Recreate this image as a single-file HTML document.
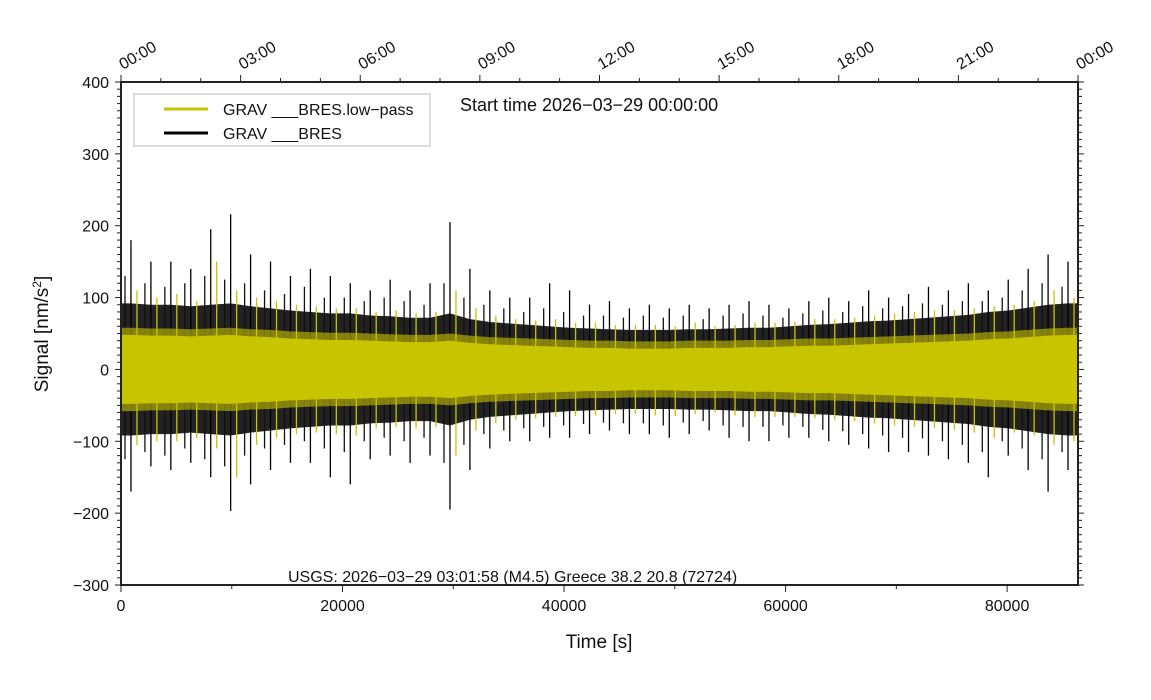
<!DOCTYPE html>
<html><head><meta charset="utf-8"><style>
html,body{margin:0;padding:0;background:#fff;}
svg{display:block;font-family:"Liberation Sans",Arial,sans-serif;}
</style></head><body>
<svg id="chart" width="1151" height="700" viewBox="0 0 1151 700">
<defs><clipPath id="plotclip"><rect x="121" y="82" width="957" height="503"/></clipPath></defs>
<g id="series" clip-path="url(#plotclip)"></g>
<rect x="121" y="82" width="957" height="503" fill="none" stroke="#222" stroke-width="2"/>
<g id="axes"></g>
<g>
<rect x="134" y="94" width="296" height="52" fill="#fff" stroke="#bbb" stroke-width="1"/>
<line x1="164" y1="109" x2="208" y2="109" stroke="#c8c400" stroke-width="3"/>
<text x="223" y="115" font-size="16" fill="#111">GRAV ___BRES.low−pass</text>
<line x1="164" y1="133" x2="208" y2="133" stroke="#000" stroke-width="3"/>
<text x="223" y="139" font-size="16" fill="#111">GRAV ___BRES</text>
</g>
<text x="460" y="111" font-size="18" fill="#111">Start time 2026−03−29 00:00:00</text>
<text x="288" y="582" font-size="16" fill="#111">USGS: 2026−03−29 03:01:58 (M4.5) Greece 38.2 20.8 (72724)</text>
<text x="599" y="648" font-size="19" text-anchor="middle" fill="#111">Time [s]</text>
<text transform="translate(48,334) rotate(-90)" font-size="19" text-anchor="middle" fill="#111">Signal [nm/s<tspan font-size="12" dy="-7">2</tspan><tspan dy="7">]</tspan></text>
</svg>
<script>
const binSeconds = 1800;
const peakHi = [180,150,150,140,195,216,160,150,130,140,130,120,110,125,110,120,205,140,110,100,100,120,110,90,95,85,90,85,90,85,90,95,90,85,95,100,95,110,100,105,115,110,120,110,125,140,160,150];
const peakLo = [-170,-135,-140,-130,-150,-197,-160,-140,-130,-130,-150,-160,-125,-120,-130,-120,-195,-140,-110,-100,-100,-95,-95,-90,-85,-90,-90,-95,-90,-85,-95,-100,-100,-95,-95,-100,-105,-110,-115,-115,-120,-125,-130,-150,-120,-140,-170,-140];
const subHi = [130,120,115,120,130,125,120,110,105,115,100,100,95,100,95,90,120,100,90,85,80,85,80,75,75,72,75,72,75,70,75,78,75,72,78,82,80,88,85,88,92,90,95,95,100,110,120,115];
const subLo = [-125,-115,-120,-110,-125,-135,-120,-110,-105,-100,-110,-115,-100,-95,-100,-95,-130,-105,-90,-85,-82,-80,-78,-76,-74,-75,-75,-78,-74,-72,-78,-80,-80,-78,-80,-84,-86,-90,-92,-95,-96,-100,-105,-115,-100,-110,-125,-115];
const yelHi = [110,100,105,95,150,110,100,95,90,88,85,85,80,82,78,80,110,85,75,70,68,70,65,65,62,62,62,60,65,60,62,65,65,66,70,70,72,75,78,80,82,82,85,88,90,95,110,100];
const yelLo = [-105,-100,-100,-95,-110,-150,-105,-95,-90,-88,-90,-92,-82,-80,-82,-80,-120,-85,-75,-70,-68,-66,-65,-64,-62,-62,-64,-65,-62,-60,-64,-66,-66,-66,-68,-70,-72,-75,-78,-80,-82,-84,-88,-95,-88,-92,-105,-100];
const bandAmp = [92,90,90,88,90,92,88,85,82,80,78,78,75,74,72,72,78,70,66,64,62,60,58,57,56,55,55,55,56,56,57,58,58,60,62,63,65,67,68,70,72,74,76,80,82,86,90,92];
const coreAmp = [48,47,47,46,47,48,46,45,43,42,41,41,40,39,38,38,40,37,35,34,33,32,31,30,30,29,29,29,30,30,30,31,31,32,33,33,34,35,36,37,38,39,40,42,43,45,47,48];
const yTicks = [-300,-200,-100,0,100,200,300,400];
const xTicks = [0,20000,40000,60000,80000];
const hourLabels = ["00:00","03:00","06:00","09:00","12:00","15:00","18:00","21:00","00:00"];

const X0=121, X1=1078, Y0=585, Y1=82;
const xs = v => X0 + (v/86400)*(X1-X0);
const ys = v => Y0 - ((v+300)/700)*(Y0-Y1);
const NS="http://www.w3.org/2000/svg";
const seriesG=document.getElementById('series');
const axesG=document.getElementById('axes');
function mk(tag,attrs,parent){const e=document.createElementNS(NS,tag);for(const k in attrs)e.setAttribute(k,attrs[k]);parent.appendChild(e);return e;}

const nLast=bandAmp.length-1;
function envelope(amps){
  let t=[],b=[];
  amps.forEach((a,i)=>{const x=xs((i+0.5)*binSeconds);t.push(x+','+ys(a));b.unshift(x+','+ys(-a));});
  t.unshift(xs(0)+','+ys(amps[0]));b.push(xs(0)+','+ys(-amps[0]));
  t.push(xs(86400)+','+ys(amps[nLast]));b.unshift(xs(86400)+','+ys(-amps[nLast]));
  return t.concat(b).join(' ');
}
const band=mk('polygon',{points:envelope(bandAmp),fill:'#222'},seriesG);



function spikes(hi,lo,frac,color,name){
  hi.forEach((v,i)=>{
    const x=xs((i+frac)*binSeconds);
    const l=mk('line',{x1:x,x2:x,y1:ys(v),y2:ys(lo[i]),stroke:color,'stroke-width':1.3},seriesG);
    
    
  });
}
spikes(peakHi,peakLo,0.5,'#000','raw-peak-spike');
spikes(subHi,subLo,0.2,'#111','raw-sub-spike');

const mix=mk('polygon',{points:envelope(bandAmp.map((a,i)=>coreAmp[i]+10)),fill:'#c8c400','fill-opacity':0.6},seriesG);


spikes(yelHi,yelLo,0.8,'#c8c400','lowpass-spike');
const core=mk('polygon',{points:envelope(coreAmp),fill:'#c8c400'},seriesG);



for(let v=-300;v<=400;v+=10){
  const y=ys(v), major=(v%100===0);
  const len=major?6:4;
  const t1=mk('line',{x1:X0-len,x2:X0,y1:y,y2:y,stroke:'#222','stroke-width':1},axesG);
  
  
  const t2=mk('line',{x1:X1,x2:X1+len,y1:y,y2:y,stroke:'#222','stroke-width':1},axesG);
  
  
}
yTicks.forEach(v=>{
  const t=mk('text',{x:X0-12,y:ys(v)+6,'font-size':16,'text-anchor':'end',fill:'#111'},axesG);
  t.textContent=(v<0?'−'+(-v):String(v));
  
  
});
for(let v=0;v<=86400;v+=10000){
  const x=xs(v), major=(v%20000===0);
  const l=mk('line',{x1:x,x2:x,y1:Y0,y2:Y0+(major?7:4),stroke:'#222','stroke-width':1},axesG);
  
  
}
xTicks.forEach(v=>{
  const t=mk('text',{x:xs(v),y:Y0+26,'font-size':16,'text-anchor':'middle',fill:'#111'},axesG);
  t.textContent=String(v);
  
  
});
for(let h=0;h<=24;h++){
  const x=xs(h*3600), major=(h%3===0);
  const l=mk('line',{x1:x,x2:x,y1:Y1-(major?7:4),y2:Y1,stroke:'#222','stroke-width':1},axesG);
  
  
}
hourLabels.forEach((s,i)=>{
  const x=xs(i*3*3600);
  const t=mk('text',{transform:'translate('+(x+2)+','+(Y1-12)+') rotate(-30)','font-size':16,fill:'#111'},axesG);
  t.textContent=s;
  
  
});
</script>
</body></html>
